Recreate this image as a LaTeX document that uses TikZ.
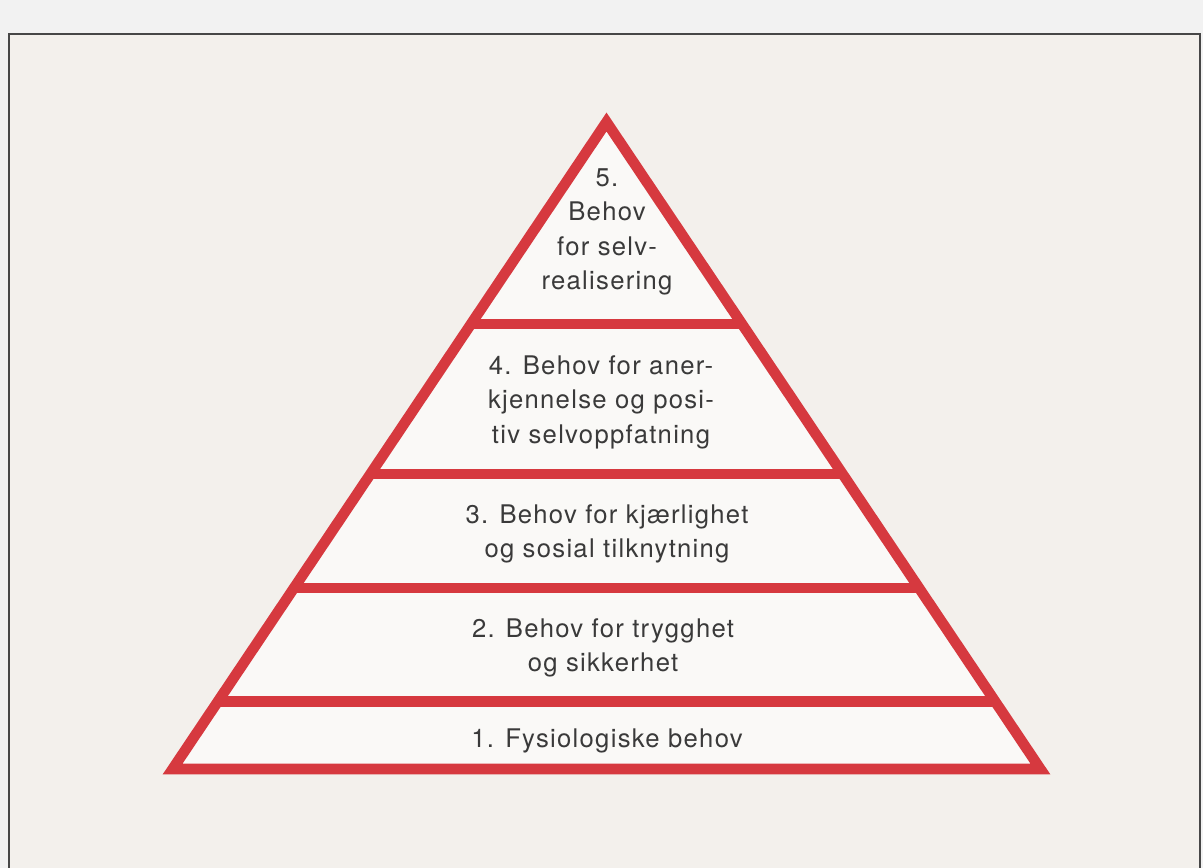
\documentclass[tikz,border=0pt]{standalone}
\usepackage{fontspec}
\setmainfont{TeX Gyre Heros}[LetterSpace=5]
\usetikzlibrary{calc}
\definecolor{pyrred}{HTML}{D6393F}
\definecolor{paper}{HTML}{F3F0EC}
\definecolor{ink}{HTML}{3A3A3A}

\begin{document}
\begin{tikzpicture}[x=0.02cm,y=-0.02cm,band/.style={draw=pyrred,line width=6pt},lbl/.style={align=center,text=ink,font=\fontsize{14.6}{19.6}\selectfont,inner sep=0pt}]
\useasboundingbox (0,0) rectangle (1203,868);
\fill[white!95!black] (0,0) rectangle (1203,868);
\fill[paper] (9,34) rectangle (1200,868);
\draw[black!72,line width=1.6pt] (9,868) -- (9,34) -- (1200,34) -- (1200,868);
% pyramid outline and the four dividing bands
\coordinate (top) at (606.5,122);
\coordinate (bl) at (172.6,769);
\coordinate (br) at (1040.4,769);
\filldraw[fill=white!60!paper,band,line join=miter] (top) -- (bl) -- (br) -- cycle;
\foreach \t in {0.312,0.544,0.720,0.896}
  \draw[band] ($(top)!\t!(bl)$) -- ($(top)!\t!(br)$);
% levels, top to bottom
\node[lbl] (lvl5) at (607,232) {5.\\Behov\\for selv-\\realisering};
\node[lbl] (lvl4) at (601,402) {4. Behov for aner-\\kjennelse og posi-\\tiv selvoppfatning};
\node[lbl] (lvl3) at (607,534) {3. Behov for kjærlighet\\og sosial tilknytning};
\node[lbl] (lvl2) at (603,648) {2. Behov for trygghet\\og sikkerhet};
\node[lbl] (lvl1) at (607,741) {1. Fysiologiske behov};
\end{tikzpicture}
\end{document}
